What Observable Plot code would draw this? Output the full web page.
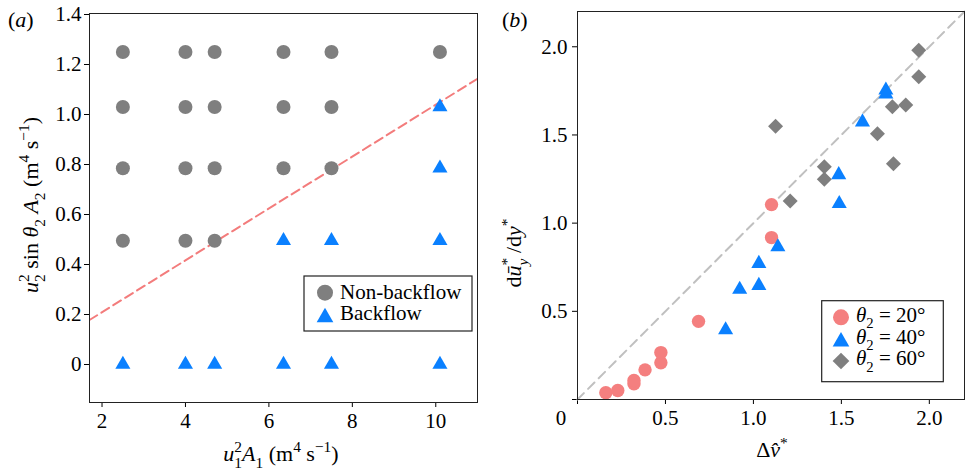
<!DOCTYPE html>
<html><head><meta charset="utf-8">
<script src="https://cdn.jsdelivr.net/npm/d3@7"></script>
<script src="https://cdn.jsdelivr.net/npm/@observablehq/plot@0.6"></script>
<style>
body{margin:0;background:#fff;}
#wrap{position:relative;width:965px;height:475px;overflow:hidden;background:#fff;}
#wrap svg{position:absolute;top:0;}
</style></head><body><div id="wrap"></div>
<script>
// ---------- Panel (a) data ----------
const nbX = [2.5, 4.0, 4.7, 6.35, 7.5, 10.1, 2.5, 4.0, 4.7, 6.35, 7.5, 2.5, 4.0, 4.7, 6.35, 7.5, 2.5, 4.0, 4.7];
const nbY = [1.25, 1.25, 1.25, 1.25, 1.25, 1.25, 1.03, 1.03, 1.03, 1.03, 1.03, 0.785, 0.785, 0.785, 0.785, 0.785, 0.495, 0.495, 0.495];
const bfX = [10.1, 10.1, 6.35, 7.5, 10.1, 2.5, 4.0, 4.7, 6.35, 7.5, 10.1];
const bfY = [1.03, 0.785, 0.495, 0.495, 0.495, 0, 0, 0, 0, 0, 0];
const fitX = [1.7, 11.0];
const fitY = [0.178, 1.143];
const xTicksA = [2, 4, 6, 8, 10];
const yTicksA = [0, 0.2, 0.4, 0.6, 0.8, 1.0, 1.2, 1.4];
const legendA = ["Non-backflow", "Backflow"];

// ---------- Panel (b) data ----------
const c20X = [0.161, 0.229, 0.321, 0.321, 0.384, 0.474, 0.474, 0.688, 1.103, 1.103];
const c20Y = [0.038, 0.051, 0.089, 0.108, 0.168, 0.208, 0.266, 0.443, 0.918, 1.105];
const t40X = [0.842, 0.922, 1.031, 1.031, 1.139, 1.485, 1.488, 1.62, 1.753, 1.753];
const t40Y = [0.394, 0.624, 0.646, 0.771, 0.865, 1.274, 1.110, 1.573, 1.731, 1.754];
const d60X = [1.126, 1.209, 1.403, 1.403, 1.705, 1.796, 1.79, 1.866, 1.94, 1.94];
const d60Y = [1.55, 1.126, 1.249, 1.32, 1.507, 1.337, 1.66, 1.67, 1.83, 1.98];
const refX = [0, 2.2];
const refY = [0, 2.2];
const ticksB = [0, 0.5, 1.0, 1.5, 2.0];
const legendB = ["20°", "40°", "60°"];

// ---------- styling ----------
const FONT = '"Liberation Serif", "DejaVu Serif", serif';
const GRAY = "#7f7f7f", BLUE = "#0a80ff", PINK = "#f47f7f", RED = "#f37c7c", LGRAY = "#c0c0c0";
const pts = (xs, ys) => xs.map((x, i) => ({x, y: ys[i]}));
const wrap = document.getElementById("wrap");

function rich(svg, {x, y, rotate = 0, anchor = "start", size = 22, parts}) {
  const t = d3.select(svg).append("text")
    .attr("transform", `translate(${x},${y})` + (rotate ? ` rotate(${rotate})` : ""))
    .attr("text-anchor", anchor)
    .attr("font-family", FONT)
    .attr("font-size", size)
    .attr("fill", "black")
    .attr("style", "white-space:pre");
  let shift = 0;
  for (const p of parts) {
    const target = p.s === "sup" ? -0.42 * size : p.s === "sub" ? 0.3 * size : 0;
    const ts = t.append("tspan").text(p.t);
    if (p.s) ts.attr("font-size", size * 0.7);
    if (p.it) ts.attr("font-style", "italic");
    const dy = target - shift;
    if (dy) ts.attr("dy", dy);
    if (p.dx) ts.attr("dx", p.dx);
    shift = target;
  }
  return t;
}

const common = {
  style: {fontFamily: FONT, fontSize: "21px", color: "black", background: "transparent", overflow: "visible"}
};

// ---------- Panel (a) ----------
const plotA = Plot.plot({
  ...common,
  width: 482, height: 475,
  marginLeft: 89, marginRight: 5, marginTop: 13, marginBottom: 73,
  x: {domain: [1.7, 11.0]},
  y: {domain: [-0.152, 1.404]},
  marks: [
    Plot.axisX({ticks: xTicksA, tickFormat: d => String(d), tickSize: 5, tickPadding: 6, label: null}),
    Plot.axisY({ticks: yTicksA, tickFormat: d => d === 0 ? "0" : d.toFixed(1), tickSize: 5, tickPadding: 3, label: null}),
    Plot.line(pts(fitX, fitY), {x: "x", y: "y", stroke: RED, strokeWidth: 2, strokeDasharray: "9,5", clip: true}),
    Plot.dot(pts(nbX, nbY), {x: "x", y: "y", r: 7, fill: GRAY, symbol: "circle"}),
    Plot.dot(pts(bfX, bfY), {x: "x", y: "y", r: 5.6, fill: BLUE, symbol: "triangle"}),
    Plot.frame({stroke: "#222"})
  ]
});
plotA.style.left = "0px";
wrap.appendChild(plotA);

// ---------- Panel (b) ----------
const plotB = Plot.plot({
  ...common,
  width: 483, height: 475,
  marginLeft: 95, marginRight: 1, marginTop: 11, marginBottom: 76,
  x: {domain: [0, 2.2]},
  y: {domain: [0, 2.2]},
  marks: [
    Plot.axisX({ticks: ticksB, tickFormat: d => d === 0 ? "" : d.toFixed(1), tickSize: 5, tickPadding: 6, label: null}),
    Plot.axisY({ticks: ticksB, tickFormat: d => d === 0 ? "" : d.toFixed(1), tickSize: 5, tickPadding: 5, label: null}),
    Plot.line(pts(refX, refY), {x: "x", y: "y", stroke: LGRAY, strokeWidth: 2, strokeDasharray: "9,6"}),
    Plot.dot(pts(c20X, c20Y), {x: "x", y: "y", r: 6.7, fill: PINK, symbol: "circle"}),
    Plot.dot(pts(t40X, t40Y), {x: "x", y: "y", r: 5.6, fill: BLUE, symbol: "triangle"}),
    Plot.dot(pts(d60X, d60Y), {x: "x", y: "y", r: 6.76, fill: GRAY, symbol: "diamond2"}),
    Plot.frame({stroke: "#222"})
  ]
});
plotB.style.left = "482px";
wrap.appendChild(plotB);

// ---------- legends ----------
function legendBox(svg, x, y, w, h) {
  d3.select(svg).append("rect").attr("x", x).attr("y", y).attr("width", w).attr("height", h)
    .attr("fill", "white").attr("stroke", "#222").attr("stroke-width", 1.2);
}
function sym(svg, type, size, x, y, fill) {
  d3.select(svg).append("path").attr("d", d3.symbol(type, size)()).attr("transform", `translate(${x},${y})`).attr("fill", fill);
}
legendBox(plotA, 304, 276, 168, 55);
sym(plotA, d3.symbolCircle, Math.PI * 64, 325, 292.7, GRAY);
sym(plotA, d3.symbolTriangle, 120, 325, 317.4, BLUE);
rich(plotA, {x: 340, y: 298.5, size: 21, parts: [{t: legendA[0]}]});
rich(plotA, {x: 340, y: 320.3, size: 21, parts: [{t: legendA[1]}]});

legendBox(plotB, 339.7, 300.7, 121.6, 81);
sym(plotB, d3.symbolCircle, Math.PI * 64, 359, 317.3, PINK);
sym(plotB, d3.symbolTriangle, 120, 359, 341.7, BLUE);
sym(plotB, d3.symbolDiamond2, 178, 359, 361, GRAY);
legendB.forEach((v, i) => rich(plotB, {x: 374, y: 321.7 + i * 21.8, size: 21,
  parts: [{t: "θ", it: true}, {t: "2", s: "sub"}, {t: " = " + v}]}));

// ---------- axis titles & panel labels ----------
rich(plotA, {x: 8, y: 27, size: 22, parts: [{t: "("}, {t: "a", it: true}, {t: ")"}]});
rich(plotB, {x: 20, y: 27, size: 22, parts: [{t: "("}, {t: "b", it: true}, {t: ")"}]});

rich(plotA, {x: 281, y: 461, anchor: "middle", size: 22, parts: [
  {t: "u", it: true}, {t: "2", s: "sup"}, {t: "1", s: "sub", dx: -7.7}, {t: "A", it: true}, {t: "1", s: "sub"},
  {t: " (m"}, {t: "4", s: "sup"}, {t: " s"}, {t: "−1", s: "sup"}, {t: ")"}]});
rich(plotA, {x: 38, y: 205, rotate: -90, anchor: "middle", size: 22, parts: [
  {t: "u", it: true}, {t: "2", s: "sup"}, {t: "2", s: "sub", dx: -7.7}, {t: " sin "}, {t: "θ", it: true}, {t: "2", s: "sub"},
  {t: " "}, {t: "A", it: true}, {t: "2", s: "sub"}, {t: " (m"}, {t: "4", s: "sup"}, {t: " s"}, {t: "−1", s: "sup"}, {t: ")"}]});

rich(plotB, {x: 79, y: 425, anchor: "middle", size: 21, parts: [{t: "0"}]});
rich(plotB, {x: 290, y: 457, anchor: "middle", size: 22, parts: [
  {t: "Δ"}, {t: "v\u0302", it: true}, {t: "*", s: "sup"}]});
rich(plotB, {x: 39, y: 253, rotate: -90, anchor: "middle", size: 22, parts: [
  {t: "d"}, {t: "ū", it: true}, {t: "*", s: "sup"}, {t: "y", it: true, s: "sub", dx: -7.7}, {t: " /d"}, {t: "y", it: true}, {t: "*", s: "sup"}]});
</script>
</body></html>
